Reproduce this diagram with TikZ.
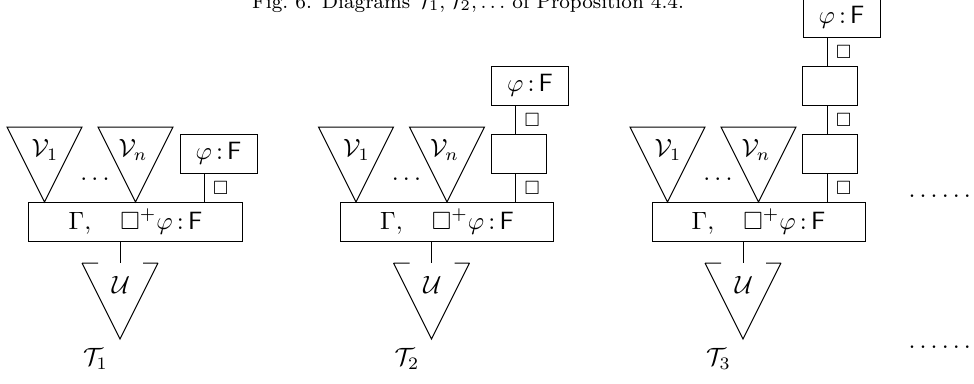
\documentclass[tikz,border=0pt]{standalone}
\usepackage{amsmath, amssymb}

\begin{document}
\begin{tikzpicture}[x=0.4pt, y=0.4pt,
  box/.style={draw, inner sep=0pt, minimum width=30.8pt, minimum height=15.6pt},
  emptybox/.style={draw, inner sep=0pt, minimum width=22pt, minimum height=15.6pt},
  seqbox/.style={draw, inner sep=0pt, minimum width=85.2pt, minimum height=15.6pt},
  boxlab/.style={right, font=\scriptsize}]
  \useasboundingbox (0,0) rectangle (974,383);
  \node[anchor=base] (cap) at (468,375) {\footnotesize Fig.~6.\enspace Diagrams $\mathcal{T}_1, \mathcal{T}_2, \ldots$ of Proposition~4.4.};
  % diagram 1: phi:F right above the sequent
  \draw (7,256) -- (82,256) -- (44.5,181) -- cycle;
  \node (v1a) at (45,233) {$\mathcal{V}_1$};
  \draw (98,256) -- (173,256) -- (135.5,181) -- cycle;
  \node (vna) at (133,233) {$\mathcal{V}_n$};
  \node (dotsa) at (95,204) {$\ldots$};
  \node[seqbox] (seqa) at (135.5,161.5) {$\Gamma,\quad\Box^+\varphi\,{:}\,\mathsf{F}$};
  \node[box] (phia) at (218.5,229.5) {$\varphi\,{:}\,\mathsf{F}$};
  \coordinate (linea) at (204,0);
  \draw (seqa.north -| linea) -- node[boxlab] {$\Box$} (phia.south -| linea);
  \coordinate (ua) at (120,120);
  \draw (seqa.south -| ua) -- (ua);
  \draw (82,120) -- (98,120) (143,120) -- (158,120) (82,120) -- (120,44) -- (158,120);
  \node (ulaba) at (121,98.5) {$\mathcal{U}$};
  \node (ta) at (95.5,24) {$\mathcal{T}_1$};
  % diagram 2: one empty box in between
  \draw (318.5,256) -- (393.5,256) -- (356,181) -- cycle;
  \node (v1b) at (356.5,233) {$\mathcal{V}_1$};
  \draw (409.5,256) -- (484.5,256) -- (447,181) -- cycle;
  \node (vnb) at (444.5,233) {$\mathcal{V}_n$};
  \node (dotsb) at (406.5,204) {$\ldots$};
  \node[seqbox] (seqb) at (447,161.5) {$\Gamma,\quad\Box^+\varphi\,{:}\,\mathsf{F}$};
  \node[emptybox] (eb1) at (518.5,229.5) {};
  \node[box] (phib) at (530,297.5) {$\varphi\,{:}\,\mathsf{F}$};
  \coordinate (lineb) at (515.5,0);
  \draw (seqb.north -| lineb) -- node[boxlab] {$\Box$} (eb1.south -| lineb);
  \draw (eb1.north -| lineb) -- node[boxlab] {$\Box$} (phib.south -| lineb);
  \coordinate (ub) at (431.5,120);
  \draw (seqb.south -| ub) -- (ub);
  \draw (393.5,120) -- (409.5,120) (454.5,120) -- (469.5,120) (393.5,120) -- (431.5,44) -- (469.5,120);
  \node (ulabb) at (432.5,98.5) {$\mathcal{U}$};
  \node (tb) at (407,24) {$\mathcal{T}_2$};
  % diagram 3: two empty boxes, phi:F runs off the top
  \draw (630,256) -- (705,256) -- (667.5,181) -- cycle;
  \node (v1c) at (668,233) {$\mathcal{V}_1$};
  \draw (721,256) -- (796,256) -- (758.5,181) -- cycle;
  \node (vnc) at (756,233) {$\mathcal{V}_n$};
  \node (dotsc) at (718,204) {$\ldots$};
  \node[seqbox] (seqc) at (758.5,161.5) {$\Gamma,\quad\Box^+\varphi\,{:}\,\mathsf{F}$};
  \node[emptybox] (ec1) at (830,229.5) {};
  \node[emptybox] (ec2) at (830,297.5) {};
  \node[box] (phic) at (841.5,365.5) {$\varphi\,{:}\,\mathsf{F}$};
  \coordinate (linec) at (827,0);
  \draw (seqc.north -| linec) -- node[boxlab] {$\Box$} (ec1.south -| linec);
  \draw (ec1.north -| linec) -- node[boxlab] {$\Box$} (ec2.south -| linec);
  \draw (ec2.north -| linec) -- node[boxlab] {$\Box$} (phic.south -| linec);
  \coordinate (uc) at (743,120);
  \draw (seqc.south -| uc) -- (uc);
  \draw (705,120) -- (721,120) (766,120) -- (781,120) (705,120) -- (743,44) -- (781,120);
  \node (ulabc) at (744,98.5) {$\mathcal{U}$};
  \node (tc) at (718.5,24) {$\mathcal{T}_3$};
  % and so on
  \node[anchor=west, inner sep=0pt] (moreup) at (908,187) {$\ldots\ldots$};
  \node[anchor=west, inner sep=0pt] (moredown) at (908,36) {$\ldots\ldots$};
\end{tikzpicture}
\end{document}
